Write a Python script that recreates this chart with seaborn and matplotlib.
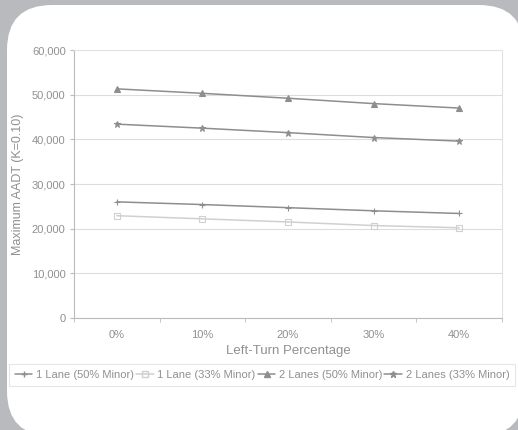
import seaborn as sns
import pandas as pd
import matplotlib.pyplot as plt
from matplotlib.patches import FancyBboxPatch
from matplotlib.ticker import FuncFormatter

# values
pcts = ['0%', '10%', '20%', '30%', '40%']
lane1_50 = [26000, 25400, 24700, 24000, 23400]
lane1_33 = [22900, 22200, 21500, 20700, 20200]
lane2_50 = [51300, 50300, 49200, 48000, 47000]
lane2_33 = [43400, 42500, 41500, 40400, 39600]
names = ['1 Lane (50% Minor)', '1 Lane (33% Minor)', '2 Lanes (50% Minor)', '2 Lanes (33% Minor)']

df = pd.DataFrame({
    'pct': pcts * 4,
    'aadt': lane1_50 + lane1_33 + lane2_50 + lane2_33,
    'series': [n for n in names for _ in pcts],
})

sns.set_style("white")
plt.rcParams['font.family'] = ['Liberation Sans', 'DejaVu Sans']

fig = plt.figure(figsize=(5.18, 4.30), dpi=100, facecolor='#b9babe')

# rounded white card behind everything
bg = fig.add_axes([0, 0, 1, 1], zorder=0)
bg.set_xlim(0, 518)
bg.set_ylim(430, 0)
bg.axis('off')
bg.add_patch(FancyBboxPatch((7 + 45, 5 + 45), 518 + 6 - 7 - 90, 436 - 5 - 90,
                            boxstyle='round,pad=45', facecolor='white', edgecolor='none'))

ax = fig.add_axes([74 / 518, 1 - 318 / 430, 428 / 518, 268 / 430], zorder=1)
colors = ['#8e8e8e', '#d0d0d0', '#8e8e8e', '#8e8e8e']
markers = ['+', 's', '^', '*']
for name, c, m in zip(names, colors, markers):
    sub = df[df['series'] == name]
    sns.lineplot(data=sub, x='pct', y='aadt', color=c, marker=m,
                 markersize=4 if m == 's' else 5, markeredgewidth=0.8,
                 markerfacecolor='none' if m == 's' else c, markeredgecolor=c,
                 linewidth=1.1, ax=ax, sort=False)

ax.set_xlim(-0.5, 4.5)
ax.set_ylim(0, 60000)
ax.set_yticks(range(0, 60001, 10000))
ax.yaxis.set_major_formatter(FuncFormatter(lambda v, p: f'{int(v):,}'))
ax.set_xticks(range(5))
ax.set_xticklabels(pcts)
ax.set_xticks([i - 0.5 for i in range(6)], minor=True)
ax.tick_params(axis='x', which='major', length=0, pad=9, labelsize=8, colors='#909090')
ax.tick_params(axis='x', which='minor', length=3, color='#bbbbbb', bottom=True)
ax.tick_params(axis='y', length=3, color='#bbbbbb', labelsize=8, colors='#909090', left=True, pad=3)
ax.grid(axis='y', color='#dddddd', linewidth=0.8)
for s in ['top', 'right']:
    ax.spines[s].set_color('#e2e2e2')
for s in ['left', 'bottom']:
    ax.spines[s].set_color('#bbbbbb')
for s in ax.spines.values():
    s.set_linewidth(0.8)

ax.set_xlabel('Left-Turn Percentage', fontsize=9.5, color='#909090', labelpad=3)
ax.set_ylabel('Maximum AADT (K=0.10)', fontsize=9, color='#909090', labelpad=6)

handles = [plt.Line2D([], [], color=c, marker=m, markersize=5 if m != 's' else 4,
                      markerfacecolor='none' if m == 's' else c, linewidth=1.1)
           for c, m in zip(colors, markers)]
leg = fig.legend(handles, names, loc='center', ncol=4,
                 bbox_to_anchor=(262 / 518, 1 - 375 / 430),
                 fontsize=8, frameon=True, fancybox=False, handlelength=1.6,
                 handletextpad=0.3, columnspacing=0.2, borderpad=0.5, borderaxespad=0)
leg.get_frame().set_edgecolor('#e0e0e0')
leg.get_frame().set_linewidth(0.8)
for t in leg.get_texts():
    t.set_color('#909090')

fig.savefig('out.png', dpi=100, facecolor=fig.get_facecolor())
